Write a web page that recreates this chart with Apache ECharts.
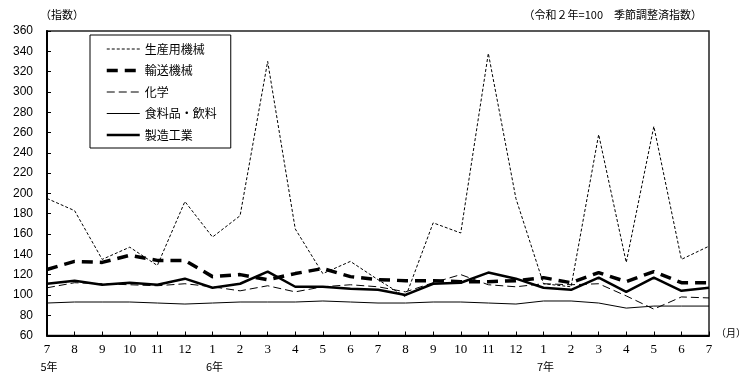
<!DOCTYPE html>
<html><head><meta charset="utf-8">
<script src="https://cdn.jsdelivr.net/npm/echarts@6/dist/echarts.min.js"></script>
<style>html,body{margin:0;padding:0;background:#fff}#c{width:748px;height:382px}</style>
</head><body><div id="c"></div>
<script>
const months = ['7','8','9','10','11','12','1','2','3','4','5','6','7','8','9','10','11','12','1','2','3','4','5','6','7'];
const yearLabels = {0:'5年', 6:'6年', 18:'7年'};
const seriesNames = ['生産用機械','輸送機械','化学','食料品・飲料','製造工業'];
const machinery = [195,183,135,147,129,192,157,178,330,165,121,133,115,98,171,161,338,195,111,108,258,132,266,135,148];
const transport = [125,133,132,139,134,134,118,120,115,121,126,118,115,114,114,113,113,114,117,112,122,113,123,112,112];
const chemical  = [107,112,111,110,109,111,108,104,109,103,108,110,108,103,112,120,110,108,111,110,111,99,86,98,97];
const food      = [92,93,93,93,92,91,92,93,93,93,94,93,92,92,93,93,92,91,94,94,92,87,89,89,89];
const manufacturing = [111,114,110,112,110,116,107,111,123,108,108,106,105,100,111,112,122,116,107,105,117,103,117,104,107];
const yTicks = {min:60, max:360, interval:20};

const chart = echarts.init(document.getElementById('c'));
const styles = [
  {width:1, type:[3,2]},
  {width:3.5, type:[11,7]},
  {width:1, type:[8,4]},
  {width:1, type:'solid'},
  {width:2.5, type:'solid'}
];
const datas = [machinery, transport, chemical, food, manufacturing];
chart.setOption({
  animation:false,
  grid:{left:47, right:39, top:31, bottom:46.5, show:true, borderColor:'#222', borderWidth:1.5, backgroundColor:'transparent'},
  legend:{
    orient:'vertical', left:90, top:35,
    data:seriesNames.map((n,i)=>({name:n, lineStyle:{width:styles[i].width, type:styles[i].type, color:'#000'}})),
    borderColor:'#000', borderWidth:1, backgroundColor:'#fff',
    padding:[7,14,6,15], itemWidth:33, itemHeight:14, itemGap:7.5,
    itemStyle:{opacity:0, color:'transparent', borderColor:'transparent', borderWidth:0},
    textStyle:{fontFamily:'"Noto Sans CJK JP"', fontSize:12, color:'#000', lineHeight:14}
  },
  xAxis:{
    type:'category', data:months, boundaryGap:false,
    axisLine:{lineStyle:{color:'#000', width:2}},
    axisTick:{inside:true, interval:0, length:4, lineStyle:{color:'#000'}},
    axisLabel:{interval:0, margin:7,
      formatter:(v,i)=>'{m|'+v+'}\n{y|'+(yearLabels[i]||' ')+'}',
      rich:{m:{fontFamily:'"Liberation Serif", serif', fontSize:13, color:'#000', lineHeight:15},
            y:{fontFamily:'"Noto Sans CJK JP"', fontSize:11, color:'#000', lineHeight:19, padding:[0,0,0,4]}}
    },
    splitLine:{show:false}
  },
  yAxis:{
    type:'value', min:yTicks.min, max:yTicks.max, interval:yTicks.interval,
    axisLine:{show:true, lineStyle:{color:'#000', width:2}},
    axisTick:{show:true, inside:true, length:4, lineStyle:{color:'#000'}},
    axisLabel:{margin:14, fontFamily:'"Liberation Sans", sans-serif', fontSize:12, color:'#000'},
    splitLine:{show:false}
  },
  graphic:[
    {type:'text', left:40, top:9, style:{text:'（指数）', font:'11px "Noto Sans CJK JP"', fill:'#000'}},
    {type:'text', right:46, top:9, style:{text:'（令和２年=100　季節調整済指数）', font:'11px "Noto Sans CJK JP"', fill:'#000'}},
    {type:'text', left:716, top:328, style:{text:'（月）', font:'10px "Noto Sans CJK JP"', fill:'#000'}}
  ],
  series: seriesNames.map((n,i)=>({
    name:n, type:'line', data:datas[i], symbol:'none', z: 10-i,
    lineStyle:{color:'#000', width:styles[i].width, type:styles[i].type},
    itemStyle:{color:'#000'}
  }))
});
</script></body></html>
